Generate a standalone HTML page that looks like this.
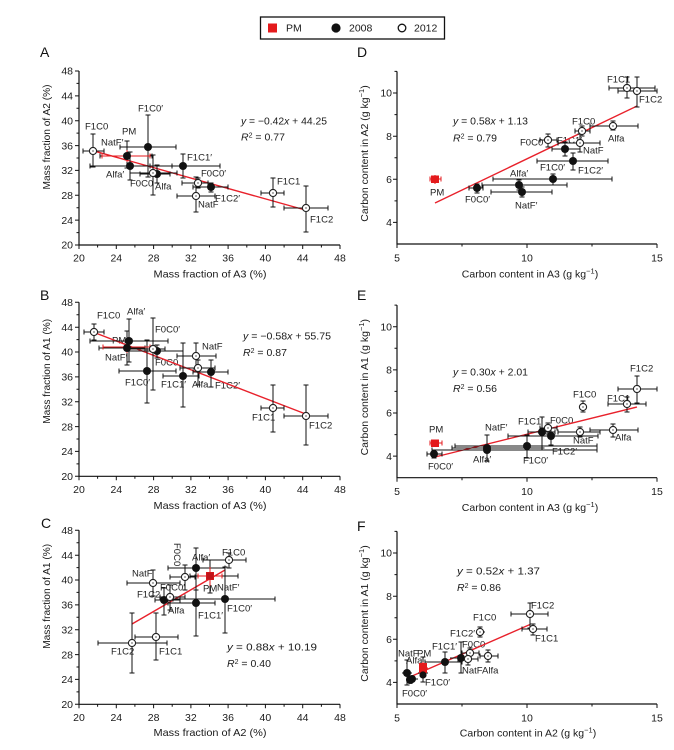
<!DOCTYPE html>
<html><head><meta charset="utf-8"><style>
html,body{margin:0;padding:0;background:#fff;}
svg{display:block;font-family:"Liberation Sans",Arial,sans-serif;}
.t{font-size:10.5px;fill:#1a1a1a;}
.l{font-size:9.5px;fill:#222;}
.ax{stroke:#111;stroke-width:1.2;fill:none;}
.tk{stroke:#111;stroke-width:1;fill:none;}
.eb{stroke:#111;stroke-width:1;fill:none;}
.rb{stroke:#e41a1c;stroke-width:1;fill:none;}
.rg{stroke:#e8212b;stroke-width:1.4;fill:none;}
.f{fill:#111;}
.o{fill:#fff;stroke:#222;stroke-width:1.1;}
.pl{font-size:14px;fill:#111;}
</style></head><body>
<svg width="674" height="750" viewBox="0 0 674 750" xmlns="http://www.w3.org/2000/svg">
<rect width="674" height="750" fill="#fff"/>

<!-- Legend -->
<rect x="260.5" y="17" width="184" height="22" fill="#fff" stroke="#111" stroke-width="1.3"/>
<rect x="268" y="23.5" width="9" height="9" fill="#e41a1c"/>
<text x="286" y="31.5" class="t" font-size="10">PM</text>
<circle cx="336" cy="28" r="4.6" fill="#111"/>
<text x="349" y="31.5" class="t" font-size="10">2008</text>
<circle cx="402" cy="28" r="3.8" fill="#fff" stroke="#111" stroke-width="1.3"/>
<text x="414" y="31.5" class="t" font-size="10">2012</text>

<!-- Panel letters -->
<text x="40" y="57" class="pl">A</text>
<text x="357" y="57" class="pl">D</text>
<text x="40" y="300" class="pl">B</text>
<text x="357" y="300" class="pl">E</text>
<text x="41" y="528" class="pl">C</text>
<text x="357" y="531" class="pl">F</text>

<!-- Left column axes (A, B, C) -->
<g>
<path class="ax" d="M79 71V245H340"/>
<path class="tk" d="M79 245v4M116.3 245v4M153.6 245v4M190.9 245v4M228.1 245v4M265.4 245v4M302.7 245v4M340 245v4M97.6 245v2.5M134.9 245v2.5M172.2 245v2.5M209.5 245v2.5M246.8 245v2.5M284.1 245v2.5M321.4 245v2.5M79 245h-4M79 220.1h-4M79 195.3h-4M79 170.4h-4M79 145.6h-4M79 120.7h-4M79 95.9h-4M79 71h-4M79 232.6h-2.5M79 207.7h-2.5M79 182.9h-2.5M79 158h-2.5M79 133.1h-2.5M79 108.3h-2.5M79 83.4h-2.5"/>
<g class="t" text-anchor="end">
<text x="73" y="248.7">20</text><text x="73" y="223.8">24</text><text x="73" y="199">28</text><text x="73" y="174.1">32</text><text x="73" y="149.3">36</text><text x="73" y="124.4">40</text><text x="73" y="99.6">44</text><text x="73" y="74.7">48</text>
</g>
<g class="t" text-anchor="middle">
<text x="79" y="261.5">20</text><text x="116.3" y="261.5">24</text><text x="153.6" y="261.5">28</text><text x="190.9" y="261.5">32</text><text x="228.1" y="261.5">36</text><text x="265.4" y="261.5">40</text><text x="302.7" y="261.5">44</text><text x="340" y="261.5">48</text>
</g>
<text class="t" x="210" y="277.5" text-anchor="middle" textLength="113" lengthAdjust="spacingAndGlyphs">Mass fraction of A3 (%)</text>
<text class="t" transform="translate(50,137) rotate(-90)" text-anchor="middle" textLength="105" lengthAdjust="spacingAndGlyphs">Mass fraction of A2 (%)</text>
</g>

<g transform="translate(0,231.3)">
<path class="ax" d="M79 71V245H340"/>
<path class="tk" d="M79 245v4M116.3 245v4M153.6 245v4M190.9 245v4M228.1 245v4M265.4 245v4M302.7 245v4M340 245v4M97.6 245v2.5M134.9 245v2.5M172.2 245v2.5M209.5 245v2.5M246.8 245v2.5M284.1 245v2.5M321.4 245v2.5M79 245h-4M79 220.1h-4M79 195.3h-4M79 170.4h-4M79 145.6h-4M79 120.7h-4M79 95.9h-4M79 71h-4M79 232.6h-2.5M79 207.7h-2.5M79 182.9h-2.5M79 158h-2.5M79 133.1h-2.5M79 108.3h-2.5M79 83.4h-2.5"/>
<g class="t" text-anchor="end">
<text x="73" y="248.7">20</text><text x="73" y="223.8">24</text><text x="73" y="199">28</text><text x="73" y="174.1">32</text><text x="73" y="149.3">36</text><text x="73" y="124.4">40</text><text x="73" y="99.6">44</text><text x="73" y="74.7">48</text>
</g>
<g class="t" text-anchor="middle">
<text x="79" y="261.5">20</text><text x="116.3" y="261.5">24</text><text x="153.6" y="261.5">28</text><text x="190.9" y="261.5">32</text><text x="228.1" y="261.5">36</text><text x="265.4" y="261.5">40</text><text x="302.7" y="261.5">44</text><text x="340" y="261.5">48</text>
</g>
<text class="t" x="210" y="277.5" text-anchor="middle" textLength="113" lengthAdjust="spacingAndGlyphs">Mass fraction of A3 (%)</text>
<text class="t" transform="translate(50,140) rotate(-90)" text-anchor="middle" textLength="105" lengthAdjust="spacingAndGlyphs">Mass fraction of A1 (%)</text>
</g>

<g transform="translate(0,459.3)">
<path class="ax" d="M79 71V245H340"/>
<path class="tk" d="M79 245v4M116.3 245v4M153.6 245v4M190.9 245v4M228.1 245v4M265.4 245v4M302.7 245v4M340 245v4M97.6 245v2.5M134.9 245v2.5M172.2 245v2.5M209.5 245v2.5M246.8 245v2.5M284.1 245v2.5M321.4 245v2.5M79 245h-4M79 220.1h-4M79 195.3h-4M79 170.4h-4M79 145.6h-4M79 120.7h-4M79 95.9h-4M79 71h-4M79 232.6h-2.5M79 207.7h-2.5M79 182.9h-2.5M79 158h-2.5M79 133.1h-2.5M79 108.3h-2.5M79 83.4h-2.5"/>
<g class="t" text-anchor="end">
<text x="73" y="248.7">20</text><text x="73" y="223.8">24</text><text x="73" y="199">28</text><text x="73" y="174.1">32</text><text x="73" y="149.3">36</text><text x="73" y="124.4">40</text><text x="73" y="99.6">44</text><text x="73" y="74.7">48</text>
</g>
<g class="t" text-anchor="middle">
<text x="79" y="261.5">20</text><text x="116.3" y="261.5">24</text><text x="153.6" y="261.5">28</text><text x="190.9" y="261.5">32</text><text x="228.1" y="261.5">36</text><text x="265.4" y="261.5">40</text><text x="302.7" y="261.5">44</text><text x="340" y="261.5">48</text>
</g>
<text class="t" x="210" y="276.5" text-anchor="middle" textLength="113" lengthAdjust="spacingAndGlyphs">Mass fraction of A2 (%)</text>
<text class="t" transform="translate(50,137) rotate(-90)" text-anchor="middle" textLength="105" lengthAdjust="spacingAndGlyphs">Mass fraction of A1 (%)</text>
</g>

<!-- Right column axes (D, E, F) -->
<g>
<path class="ax" d="M397 71.4V244H657"/>
<path class="tk" d="M397 244v4M527 244v4M657 244v4M462 244v2.5M592 244v2.5M397 222.4h-4M397 179.3h-4M397 136.2h-4M397 93h-4M397 200.9h-2.5M397 157.7h-2.5M397 114.6h-2.5M397 71.4h-2.5"/>
<g class="t" text-anchor="end"><text x="392" y="226.1">4</text><text x="392" y="183">6</text><text x="392" y="139.9">8</text><text x="392" y="96.7">10</text></g>
<g class="t" text-anchor="middle"><text x="397" y="261.5">5</text><text x="527" y="261.5">10</text><text x="657" y="261.5">15</text></g>
<text class="t" font-size="11" x="530" y="277.5" text-anchor="middle">Carbon content in A3 (g kg<tspan baseline-shift="super" font-size="7.5">−1</tspan>)</text>
<text class="t" font-size="11" transform="translate(368,153.5) rotate(-90)" text-anchor="middle">Carbon content in A2 (g kg<tspan baseline-shift="super" font-size="7.5">−1</tspan>)</text>
</g>

<g transform="translate(0,233.7)">
<path class="ax" d="M397 71.4V244H657"/>
<path class="tk" d="M397 244v4M527 244v4M657 244v4M462 244v2.5M592 244v2.5M397 222.4h-4M397 179.3h-4M397 136.2h-4M397 93h-4M397 200.9h-2.5M397 157.7h-2.5M397 114.6h-2.5M397 71.4h-2.5"/>
<g class="t" text-anchor="end"><text x="392" y="226.1">4</text><text x="392" y="183">6</text><text x="392" y="139.9">8</text><text x="392" y="96.7">10</text></g>
<g class="t" text-anchor="middle"><text x="397" y="261.5">5</text><text x="527" y="261.5">10</text><text x="657" y="261.5">15</text></g>
<text class="t" font-size="11" x="530" y="277.5" text-anchor="middle">Carbon content in A3 (g kg<tspan baseline-shift="super" font-size="7.5">−1</tspan>)</text>
<text class="t" font-size="11" transform="translate(368,153.5) rotate(-90)" text-anchor="middle">Carbon content in A1 (g kg<tspan baseline-shift="super" font-size="7.5">−1</tspan>)</text>
</g>

<g transform="translate(0,460)">
<path class="ax" d="M397 71.4V244H657"/>
<path class="tk" d="M397 244v4M527 244v4M657 244v4M462 244v2.5M592 244v2.5M397 222.4h-4M397 179.3h-4M397 136.2h-4M397 93h-4M397 200.9h-2.5M397 157.7h-2.5M397 114.6h-2.5M397 71.4h-2.5"/>
<g class="t" text-anchor="end"><text x="392" y="226.1">4</text><text x="392" y="183">6</text><text x="392" y="139.9">8</text><text x="392" y="96.7">10</text></g>
<g class="t" text-anchor="middle"><text x="397" y="261.5">5</text><text x="527" y="261.5">10</text><text x="657" y="261.5">15</text></g>
<text class="t" font-size="11" x="528" y="276.5" text-anchor="middle">Carbon content in A2 (g kg<tspan baseline-shift="super" font-size="7.5">−1</tspan>)</text>
<text class="t" font-size="11" transform="translate(368,153.5) rotate(-90)" text-anchor="middle">Carbon content in A1 (g kg<tspan baseline-shift="super" font-size="7.5">−1</tspan>)</text>
</g>

<!-- ================= PANEL A ================= -->
<g class="l">
<text x="85" y="129.5">F1C0</text>
<text x="122" y="134.5">PM</text>
<text x="101" y="145.5">NatF′</text>
<text x="138" y="111.5">F1C0′</text>
<text x="187" y="160.5">F1C1′</text>
<text x="106" y="177.5">Alfa′</text>
<text x="130" y="186.5">F0C0</text>
<text x="155" y="189.5">Alfa</text>
<text x="201" y="176.5">F0C0′</text>
<text x="215" y="201.5">F1C2′</text>
<text x="198" y="207.5">NatF</text>
<text x="277" y="184.5">F1C1</text>
<text x="310" y="222.5">F1C2</text>
</g>
<text class="t" x="241" y="124.7" textLength="86" lengthAdjust="spacingAndGlyphs"><tspan font-style="italic">y</tspan> = −0.42<tspan font-style="italic">x</tspan> + 44.25</text>
<text class="t" x="241" y="140.5"><tspan font-style="italic">R</tspan><tspan baseline-shift="super" font-size="7">2</tspan> = 0.77</text>
<path class="rg" d="M92 150.4L307 210.5"/>
<path class="eb" d="M83 151H104M83 148.5V153.5M104 148.5V153.5M93 134V167M90.5 134H95.5M90.5 167H95.5
M100 156H152M100 153.5V158.5M152 153.5V158.5M127 141V168M124.5 141H129.5M124.5 168H129.5
M90 166H172M90 163.5V168.5M172 163.5V168.5M130 152V180M127.5 152H132.5M127.5 180H132.5
M120 147H176M120 144.5V149.5M176 144.5V149.5M148 115V177M145.5 115H150.5M145.5 177H150.5
M130 173H177M130 170.5V175.5M177 170.5V175.5M153 155V195M150.5 155H155.5M150.5 195H155.5
M140 174H170M140 171.5V176.5M170 171.5V176.5M157 165V183M154.5 165H159.5M154.5 183H159.5
M150 166H220M150 163.5V168.5M220 163.5V168.5M183 154V178M180.5 154H185.5M180.5 178H185.5
M182 183H208M182 180.5V185.5M208 180.5V185.5M198 178V188M195.5 178H200.5M195.5 188H200.5
M193 187H228M193 184.5V189.5M228 184.5V189.5M211 183V192M208.5 183H213.5M208.5 192H213.5
M177 196H215M177 193.5V198.5M215 193.5V198.5M196 177V212M193.5 177H198.5M193.5 212H198.5
M261 193H284M261 190.5V195.5M284 190.5V195.5M273 178V207M270.5 178H275.5M270.5 207H275.5
M284 208H328M284 205.5V210.5M328 205.5V210.5M306 186V232M303.5 186H308.5M303.5 232H308.5"/>
<path class="rb" d="M102 156H150M102 153.5V158.5M150 153.5V158.5M127 150V162"/>
<g class="f"><circle cx="127" cy="156" r="4"/><circle cx="130" cy="166" r="4"/><circle cx="148" cy="147" r="4"/><circle cx="157" cy="174" r="4"/><circle cx="183" cy="166" r="4"/><circle cx="211" cy="187" r="4"/></g>
<g class="o"><circle cx="93" cy="151" r="3.6"/><circle cx="153" cy="173" r="3.6"/><circle cx="198" cy="183" r="3.6"/><circle cx="196" cy="196" r="3.6"/><circle cx="273" cy="193" r="3.6"/><circle cx="306" cy="208" r="3.6"/></g>

<!-- ================= PANEL B ================= -->
<g class="l">
<text x="97" y="318.5">F1C0</text>
<text x="127" y="314.5">Alfa′</text>
<text x="155" y="332.5">F0C0′</text>
<text x="112" y="343.5">PM</text>
<text x="105" y="360.5">NatF′</text>
<text x="155" y="365.5">F0C0</text>
<text x="202" y="349.5">NatF</text>
<text x="125" y="385.5">F1C0′</text>
<text x="161" y="387.5">F1C1′</text>
<text x="192" y="387.5">Alfa</text>
<text x="215" y="388.5">F1C2′</text>
<text x="252" y="420.5">F1C1</text>
<text x="309" y="428.5">F1C2</text>
</g>
<text class="t" x="243" y="339.5" textLength="88" lengthAdjust="spacingAndGlyphs"><tspan font-style="italic">y</tspan> = −0.58<tspan font-style="italic">x</tspan> + 55.75</text>
<text class="t" x="243" y="356"><tspan font-style="italic">R</tspan><tspan baseline-shift="super" font-size="7">2</tspan> = 0.87</text>
<path class="rg" d="M92 331.6L307 414.5"/>
<path class="eb" d="M84 332H104M84 329.5V334.5M104 329.5V334.5M94 324V340M91.5 324H96.5M91.5 340H96.5
M90 341H168M90 338.5V343.5M168 338.5V343.5M129 319V362M126.5 319H131.5M126.5 362H131.5
M99 348H145M99 345.5V350.5M145 345.5V350.5M127 331V365M124.5 331H129.5M124.5 365H129.5
M128 349H165M128 346.5V351.5M165 346.5V351.5M153 318V390M150.5 318H155.5M150.5 390H155.5
M127 351H183M127 348.5V353.5M183 348.5V353.5M157 345V358M154.5 345H159.5M154.5 358H159.5
M119 371H176M119 368.5V373.5M176 368.5V373.5M147 340V403M144.5 340H149.5M144.5 403H149.5
M177 356H216M177 353.5V358.5M216 353.5V358.5M196 343V369M193.5 343H198.5M193.5 369H198.5
M163 376H199M163 373.5V378.5M199 373.5V378.5M183 343V407M180.5 343H185.5M180.5 407H185.5
M180 368H215M180 365.5V370.5M215 365.5V370.5M198 360V385M195.5 360H200.5M195.5 385H200.5
M193 372H228M193 369.5V374.5M228 369.5V374.5M211 360V387M208.5 360H213.5M208.5 387H213.5
M261 408H284M261 405.5V410.5M284 405.5V410.5M273 385V432M270.5 385H275.5M270.5 432H275.5
M284 416H328M284 413.5V418.5M328 413.5V418.5M306 385V445M303.5 385H308.5M303.5 445H308.5"/>
<path class="rb" d="M103 347H150M103 344.5V349.5M150 344.5V349.5M127 342V353"/>
<g class="f"><circle cx="129" cy="341" r="4"/><circle cx="127" cy="348" r="4"/><circle cx="157" cy="351" r="4"/><circle cx="147" cy="371" r="4"/><circle cx="183" cy="376" r="4"/><circle cx="211" cy="372" r="4"/></g>
<g class="o"><circle cx="94" cy="332" r="3.6"/><circle cx="153" cy="349" r="3.6"/><circle cx="196" cy="356" r="3.6"/><circle cx="198" cy="368" r="3.6"/><circle cx="273" cy="408" r="3.6"/><circle cx="306" cy="416" r="3.6"/></g>

<!-- ================= PANEL C ================= -->
<g class="l">
<text x="222" y="555.5">F1C0</text>
<text x="192" y="560.5">Alfa′</text>
<text transform="translate(174,543) rotate(90)">F0C0</text>
<text x="132" y="576.5">NatF</text>
<text x="203" y="591.5">PM</text>
<text x="217" y="590.5">NatF′</text>
<text x="137" y="597.5">F1C2</text>
<text x="160" y="590.5">F0C0′</text>
<text x="168" y="613.5">Alfa</text>
<text x="198" y="618.5">F1C1′</text>
<text x="227" y="611.5">F1C0′</text>
<text x="159" y="654.5">F1C1</text>
<text x="111" y="654.5">F1C2</text>
</g>
<text class="t" x="227" y="650.5" textLength="90" lengthAdjust="spacingAndGlyphs"><tspan font-style="italic">y</tspan> = 0.88<tspan font-style="italic">x</tspan> + 10.19</text>
<text class="t" x="227" y="667"><tspan font-style="italic">R</tspan><tspan baseline-shift="super" font-size="7">2</tspan> = 0.40</text>
<path class="rg" d="M132 624L225 570"/>
<path class="eb" d="M203 560H246M203 557.5V562.5M246 557.5V562.5M229 553V568M226.5 553H231.5M226.5 568H231.5
M168 568H225M168 565.5V570.5M225 565.5V570.5M196 548V590M193.5 548H198.5M193.5 590H198.5
M170 577H195M170 574.5V579.5M195 574.5V579.5M185 565V590M182.5 565H187.5M182.5 590H187.5
M127 583H180M127 580.5V585.5M180 580.5V585.5M153 570V596M150.5 570H155.5M150.5 596H155.5
M190 576H238M190 573.5V578.5M238 573.5V578.5M210 560V593M207.5 560H212.5M207.5 593H212.5
M155 600H180M155 597.5V602.5M180 597.5V602.5M164 588V615M161.5 588H166.5M161.5 615H166.5
M160 597H185M160 594.5V599.5M185 594.5V599.5M170 585V610M167.5 585H172.5M167.5 610H172.5
M168 603H215M168 600.5V605.5M215 600.5V605.5M196 568V636M193.5 568H198.5M193.5 636H198.5
M173 599H275M173 596.5V601.5M275 596.5V601.5M225 567V633M222.5 567H227.5M222.5 633H227.5
M135 637H178M135 634.5V639.5M178 634.5V639.5M156 613V660M153.5 613H158.5M153.5 660H158.5
M98 643H167M98 640.5V645.5M167 640.5V645.5M132 613V673M129.5 613H134.5M129.5 673H134.5"/>
<path class="rb" d="M198 576H222M198 573.5V578.5M222 573.5V578.5M210 567V586"/>
<rect x="206" y="572" width="8" height="8" fill="#e41a1c"/>
<g class="f"><circle cx="196" cy="568" r="4"/><circle cx="164" cy="600" r="4"/><circle cx="196" cy="603" r="4"/><circle cx="225" cy="599" r="4"/></g>
<rect x="206.5" y="572.5" width="7" height="7" fill="#c0141a"/>
<g class="o"><circle cx="229" cy="560" r="3.6"/><circle cx="185" cy="577" r="3.6"/><circle cx="153" cy="583" r="3.6"/><circle cx="170" cy="597" r="3.6"/><circle cx="156" cy="637" r="3.6"/><circle cx="132" cy="643" r="3.6"/></g>

<!-- ================= PANEL D ================= -->
<g class="l">
<text x="607" y="82.5">F1C1</text>
<text x="639" y="102.5">F1C2</text>
<text x="608" y="141.5">Alfa</text>
<text x="572" y="124.5">F1C0</text>
<text x="520" y="145.5">F0C0</text>
<text x="557" y="143.5">F1C1′</text>
<text x="583" y="153.5">NatF</text>
<text x="540" y="170.5">F1C0′</text>
<text x="578" y="173.5">F1C2′</text>
<text x="510" y="176.5">Alfa′</text>
<text x="515" y="208.5">NatF′</text>
<text x="465" y="202.5">F0C0′</text>
<text x="430" y="195.5">PM</text>
</g>
<text class="t" x="453" y="124.7" textLength="75" lengthAdjust="spacingAndGlyphs"><tspan font-style="italic">y</tspan> = 0.58<tspan font-style="italic">x</tspan> + 1.13</text>
<text class="t" x="453" y="141.5"><tspan font-style="italic">R</tspan><tspan baseline-shift="super" font-size="7">2</tspan> = 0.79</text>
<path class="rg" d="M435 203L637 106"/>
<path class="eb" d="M609 88H655M609 85.5V90.5M655 85.5V90.5M627 77V98M624.5 77H629.5M624.5 98H629.5
M618 91H657M618 88.5V93.5M657 88.5V93.5M637 77V107M634.5 77H639.5M634.5 107H639.5
M590 126H638M590 123.5V128.5M638 123.5V128.5M613 121V130M610.5 121H615.5M610.5 130H615.5
M575 131H590M575 128.5V133.5M590 128.5V133.5M582 126V136M579.5 126H584.5M579.5 136H584.5
M540 140H557M540 137.5V142.5M557 137.5V142.5M548 134V147M545.5 134H550.5M545.5 147H550.5
M558 143H600M558 140.5V145.5M600 140.5V145.5M580 134V152M577.5 134H582.5M577.5 152H582.5
M552 149H580M552 146.5V151.5M580 146.5V151.5M565 142V156M562.5 142H567.5M562.5 156H567.5
M537 161H608M537 158.5V163.5M608 158.5V163.5M573 153V170M570.5 153H575.5M570.5 170H575.5
M493 179H612M493 176.5V181.5M612 176.5V181.5M553 174V185M550.5 174H555.5M550.5 185H555.5
M482 185H567M482 182.5V187.5M567 182.5V187.5M519 180V190M516.5 180H521.5M516.5 190H521.5
M491 192H552M491 189.5V194.5M552 189.5V194.5M522 187V197M519.5 187H524.5M519.5 197H524.5
M469 188H483M469 185.5V190.5M483 185.5V190.5M477 184V193M474.5 184H479.5M474.5 193H479.5"/>
<path class="rb" d="M430 179H441M430 176.5V181.5M441 176.5V181.5M435 175V184"/>
<rect x="431" y="175.5" width="8" height="7.5" fill="#e41a1c"/>
<g class="f"><circle cx="565" cy="149" r="4"/><circle cx="573" cy="161" r="4"/><circle cx="553" cy="179" r="4"/><circle cx="519" cy="185" r="4"/><circle cx="522" cy="192" r="4"/><circle cx="477" cy="188" r="4"/></g>
<g class="o"><circle cx="627" cy="88" r="3.6"/><circle cx="637" cy="91" r="3.6"/><circle cx="613" cy="126" r="3.6"/><circle cx="582" cy="131" r="3.6"/><circle cx="548" cy="140" r="3.6"/><circle cx="580" cy="143" r="3.6"/></g>

<!-- ================= PANEL E ================= -->
<g class="l">
<text x="630" y="371.5">F1C2</text>
<text x="607" y="401.5">F1C1</text>
<text x="573" y="397.5">F1C0</text>
<text x="615" y="440.5">Alfa</text>
<text x="573" y="443.5">NatF</text>
<text x="550" y="423.5">F0C0</text>
<text x="518" y="424.5">F1C1′</text>
<text x="552" y="454.5">F1C2′</text>
<text x="523" y="463.5">F1C0′</text>
<text x="485" y="430.5">NatF′</text>
<text x="473" y="462.5">Alfa′</text>
<text x="428" y="469.5">F0C0′</text>
<text x="429" y="432.5">PM</text>
</g>
<text class="t" x="453" y="375.5" textLength="75" lengthAdjust="spacingAndGlyphs"><tspan font-style="italic">y</tspan> = 0.30<tspan font-style="italic">x</tspan> + 2.01</text>
<text class="t" x="453" y="392"><tspan font-style="italic">R</tspan><tspan baseline-shift="super" font-size="7">2</tspan> = 0.56</text>
<path class="rg" d="M435 457L637 407"/>
<path class="eb" d="M618 389H657M618 386.5V391.5M657 386.5V391.5M637 376V403M634.5 376H639.5M634.5 403H639.5
M608 404H646M608 401.5V406.5M646 401.5V406.5M627 397V412M624.5 397H629.5M624.5 412H629.5
M580 407H586M583 401V412M580.5 401H585.5M580.5 412H585.5
M590 430H638M590 427.5V432.5M638 427.5V432.5M613 424V437M610.5 424H615.5M610.5 437H615.5
M558 432H600M558 429.5V434.5M600 429.5V434.5M580 427V437M577.5 427H582.5M577.5 437H582.5
M540 428H557M540 425.5V430.5M557 425.5V430.5M548 423V434M545.5 423H550.5M545.5 434H550.5
M528 432H555M528 429.5V434.5M555 429.5V434.5M542 417V448M539.5 417H544.5M539.5 448H544.5
M508 436H598M508 433.5V438.5M598 433.5V438.5M551 428V445M548.5 428H553.5M548.5 445H553.5
M455 446H597M455 443.5V448.5M597 443.5V448.5M527 435V458M524.5 435H529.5M524.5 458H529.5
M452 448H542M452 445.5V450.5M542 445.5V450.5M487 435V461M484.5 435H489.5M484.5 461H489.5
M432 450H597M432 447.5V452.5M597 447.5V452.5M487 445V455
M427 454H442M427 451.5V456.5M442 451.5V456.5M434 450V458M431.5 450H436.5M431.5 458H436.5"/>
<path class="rb" d="M430 443H442M430 440.5V445.5M442 440.5V445.5M435 439.5V447"/>
<rect x="431" y="439.5" width="8" height="7.5" fill="#e41a1c"/>
<g class="f"><circle cx="542" cy="432" r="4"/><circle cx="551" cy="436" r="4"/><circle cx="527" cy="446" r="4"/><circle cx="487" cy="448" r="4"/><circle cx="487" cy="450" r="4"/><circle cx="434" cy="454" r="4"/></g>
<g class="o"><circle cx="637" cy="389" r="3.6"/><circle cx="627" cy="404" r="3.6"/><circle cx="583" cy="407" r="3.6"/><circle cx="613" cy="430" r="3.6"/><circle cx="580" cy="432" r="3.6"/><circle cx="548" cy="428" r="3.6"/></g>

<!-- ================= PANEL F ================= -->
<g class="l">
<text x="531" y="608.5">F1C2</text>
<text x="535" y="641.5">F1C1</text>
<text x="473" y="620.5">F1C0</text>
<text x="450" y="636.5">F1C2′</text>
<text x="462" y="647.5">F0C0</text>
<text x="462" y="673.5">NatF</text>
<text x="482" y="673.5">Alfa</text>
<text x="432" y="649.5">F1C1′</text>
<text x="398" y="656.5">NatF</text>
<text x="417" y="656.5">PM</text>
<text x="406" y="663.5">Alfa′</text>
<text x="425" y="685.5">F1C0′</text>
<text x="402" y="696.5">F0C0′</text>
</g>
<text class="t" x="457" y="574.5" textLength="83" lengthAdjust="spacingAndGlyphs"><tspan font-style="italic">y</tspan> = 0.52<tspan font-style="italic">x</tspan> + 1.37</text>
<text class="t" x="457" y="591"><tspan font-style="italic">R</tspan><tspan baseline-shift="super" font-size="7">2</tspan> = 0.86</text>
<path class="rg" d="M406.7 678.4L530 624.5"/>
<path class="eb" d="M511 614H548M511 611.5V616.5M548 611.5V616.5M530 603V628M527.5 603H532.5M527.5 628H532.5
M522 629H547M522 626.5V631.5M547 626.5V631.5M533 624V635M530.5 624H535.5M530.5 635H535.5
M476 632H485M480 627V637M477.5 627H482.5M477.5 637H482.5
M462 653H479M462 650.5V655.5M479 650.5V655.5M470 648V658M467.5 648H472.5
M458 659H478M458 656.5V661.5M478 656.5V661.5M468 652V665M465.5 665H470.5
M480 656H498M480 653.5V658.5M498 653.5V658.5M488 650V662M485.5 650H490.5M485.5 662H490.5
M425 662H462M425 659.5V664.5M462 659.5V664.5M445 652V673M442.5 652H447.5M442.5 673H447.5
M450 658H470M470 655.5V660.5M461 642V673M458.5 642H463.5M458.5 673H463.5
M402 673H412M407 660V685M404.5 660H409.5M404.5 685H409.5
M406 679H418M412 675V684
M418 673H428M423 657V682M420.5 657H425.5M420.5 682H425.5"/>
<path class="rb" d="M419 668H428M423 662V674"/>
<rect x="419" y="663" width="8" height="10" fill="#e41a1c"/>
<g class="f"><circle cx="445" cy="662" r="4"/><circle cx="461" cy="658" r="4"/><circle cx="407" cy="673" r="4"/><circle cx="412" cy="679" r="4"/><circle cx="410" cy="680" r="4"/><circle cx="423" cy="675" r="3.6"/></g>
<g class="o"><circle cx="530" cy="614" r="3.6"/><circle cx="533" cy="629" r="3.6"/><circle cx="480" cy="632" r="3.6"/><circle cx="470" cy="653" r="3.6"/><circle cx="468" cy="659" r="3.6"/><circle cx="488" cy="656" r="3.6"/></g>

<!-- center dots on open markers -->
<g fill="#777">
<circle cx="93" cy="151" r="0.9"/><circle cx="153" cy="173" r="0.9"/><circle cx="198" cy="183" r="0.9"/><circle cx="196" cy="196" r="0.9"/><circle cx="273" cy="193" r="0.9"/><circle cx="306" cy="208" r="0.9"/>
<circle cx="94" cy="332" r="0.9"/><circle cx="153" cy="349" r="0.9"/><circle cx="196" cy="356" r="0.9"/><circle cx="198" cy="368" r="0.9"/><circle cx="273" cy="408" r="0.9"/><circle cx="306" cy="416" r="0.9"/>
<circle cx="229" cy="560" r="0.9"/><circle cx="185" cy="577" r="0.9"/><circle cx="153" cy="583" r="0.9"/><circle cx="170" cy="597" r="0.9"/><circle cx="156" cy="637" r="0.9"/><circle cx="132" cy="643" r="0.9"/>
<circle cx="627" cy="88" r="0.9"/><circle cx="637" cy="91" r="0.9"/><circle cx="613" cy="126" r="0.9"/><circle cx="582" cy="131" r="0.9"/><circle cx="548" cy="140" r="0.9"/><circle cx="580" cy="143" r="0.9"/>
<circle cx="637" cy="389" r="0.9"/><circle cx="627" cy="404" r="0.9"/><circle cx="583" cy="407" r="0.9"/><circle cx="613" cy="430" r="0.9"/><circle cx="580" cy="432" r="0.9"/><circle cx="548" cy="428" r="0.9"/>
<circle cx="530" cy="614" r="0.9"/><circle cx="533" cy="629" r="0.9"/><circle cx="480" cy="632" r="0.9"/><circle cx="470" cy="653" r="0.9"/><circle cx="468" cy="659" r="0.9"/><circle cx="488" cy="656" r="0.9"/>
</g>
</svg>
</body></html>
